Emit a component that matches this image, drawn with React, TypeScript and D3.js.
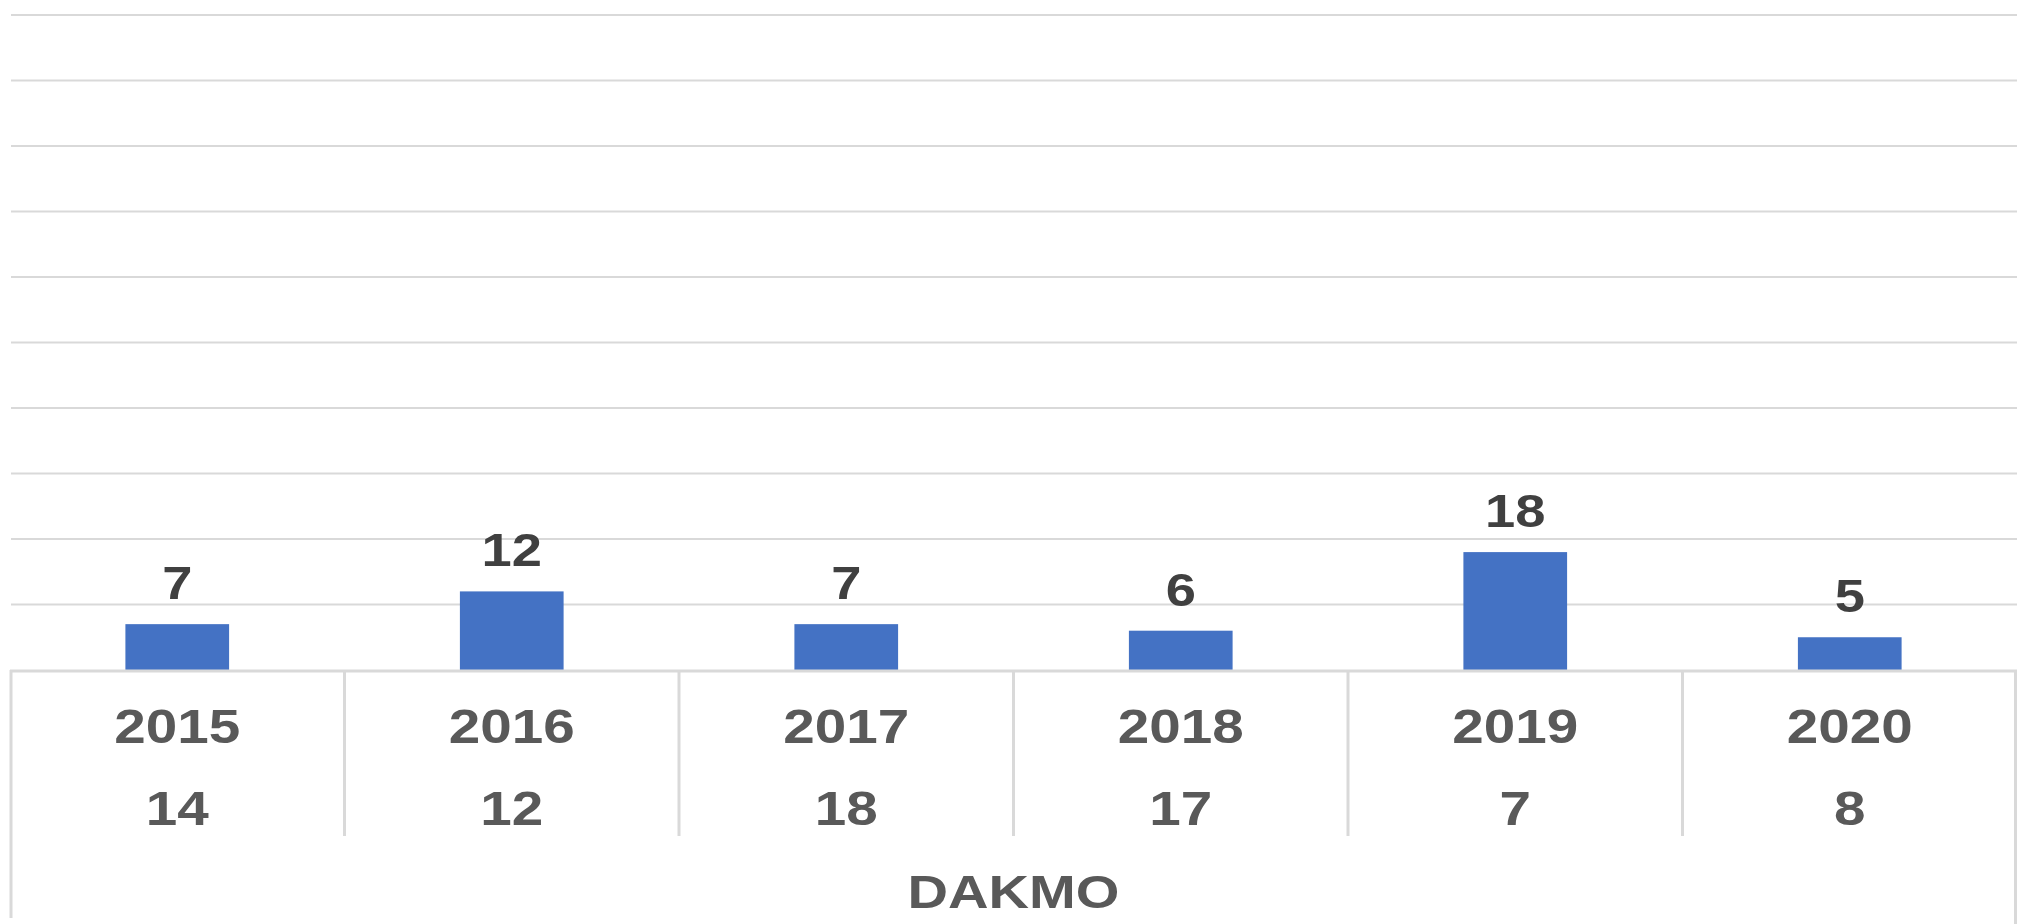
import { useEffect, useRef } from 'react'
import * as d3 from 'd3'

const years = ['2015', '2016', '2017', '2018', '2019', '2020']
const barValues = [7, 12, 7, 6, 18, 5]
const rowValues = [14, 12, 18, 17, 7, 8]
const groupLabel = 'DAKMO'
const yTicks = [10, 20, 30, 40, 50, 60, 70, 80, 90, 100]

const W = 2017
const H = 924
const FONT = '"Liberation Sans", Arial, sans-serif'
const STRETCH = 1.18

export default function App() {
  const ref = useRef<SVGSVGElement | null>(null)

  useEffect(() => {
    if (!ref.current) {return}
    const svg = d3.select(ref.current)
    svg.selectAll('*').remove()

    const left = 10
    const x = d3.scaleBand<string>().domain(years).range([left, W]).padding(0)
    const y = d3.scaleLinear().domain([0, 100]).range([670, 15])
    const barW = x.bandwidth() * 0.31
    const grid = '#d9d9d9'

    // gridlines
    svg.append('g')
      .selectAll('line')
      .data(yTicks)
      .join('line')
      .attr('x1', left + 1)
      .attr('x2', W)
      .attr('y1', (d) => y(d))
      .attr('y2', (d) => y(d))
      .attr('stroke', grid)
      .attr('stroke-width', 2)

    // bars
    svg.append('g')
      .selectAll('rect')
      .data(years)
      .join('rect')
      .attr('x', (d) => (x(d) ?? 0) + x.bandwidth() / 2 - barW / 2)
      .attr('y', (_, i) => y(barValues[i]))
      .attr('width', barW)
      .attr('height', (_, i) => y(0) - y(barValues[i]))
      .attr('fill', '#4472c4')

    const label = (
      g: d3.Selection<SVGGElement, unknown, null, undefined>,
      tx: number,
      ty: number,
      text: string,
      size: number,
      color: string,
      sx = STRETCH,
    ) => {
      g.append('text')
        .attr('transform', `translate(${tx},${ty}) scale(${sx},1)`)
        .attr('text-anchor', 'middle')
        .attr('font-family', FONT)
        .attr('font-weight', 'bold')
        .attr('font-size', size)
        .attr('fill', color)
        .text(text)
    }

    const labels = svg.append('g')
    years.forEach((yr, i) => {
      const cx = (x(yr) ?? 0) + x.bandwidth() / 2
      label(labels, cx, y(barValues[i]) - 25, String(barValues[i]), 46, '#404040')
      label(labels, cx, 743, yr, 48, '#595959')
      label(labels, cx, 825, String(rowValues[i]), 48, '#595959')
    })
    label(labels, (left + W) / 2, 908, groupLabel, 46, '#595959', 1.22)

    // table lines
    const t = svg.append('g').attr('stroke', grid).attr('stroke-width', 3)
    t.append('line').attr('x1', left).attr('x2', W).attr('y1', y(0) + 1).attr('y2', y(0) + 1)
    t.selectAll('line.sep')
      .data(years.slice(1))
      .join('line')
      .attr('class', 'sep')
      .attr('x1', (d) => x(d) ?? 0)
      .attr('x2', (d) => x(d) ?? 0)
      .attr('y1', y(0))
      .attr('y2', 836)
    t.append('line').attr('x1', left + 1).attr('x2', left + 1).attr('y1', y(0)).attr('y2', 918)
    t.append('line').attr('x1', W - 1.5).attr('x2', W - 1.5).attr('y1', y(0)).attr('y2', H)
  }, [])

  return (
    <div style={{ position: 'fixed', left: 0, top: 0, width: W, height: H, background: '#fff' }}>
      <svg ref={ref} width={W} height={H} style={{ display: 'block' }} />
    </div>
  )
}
